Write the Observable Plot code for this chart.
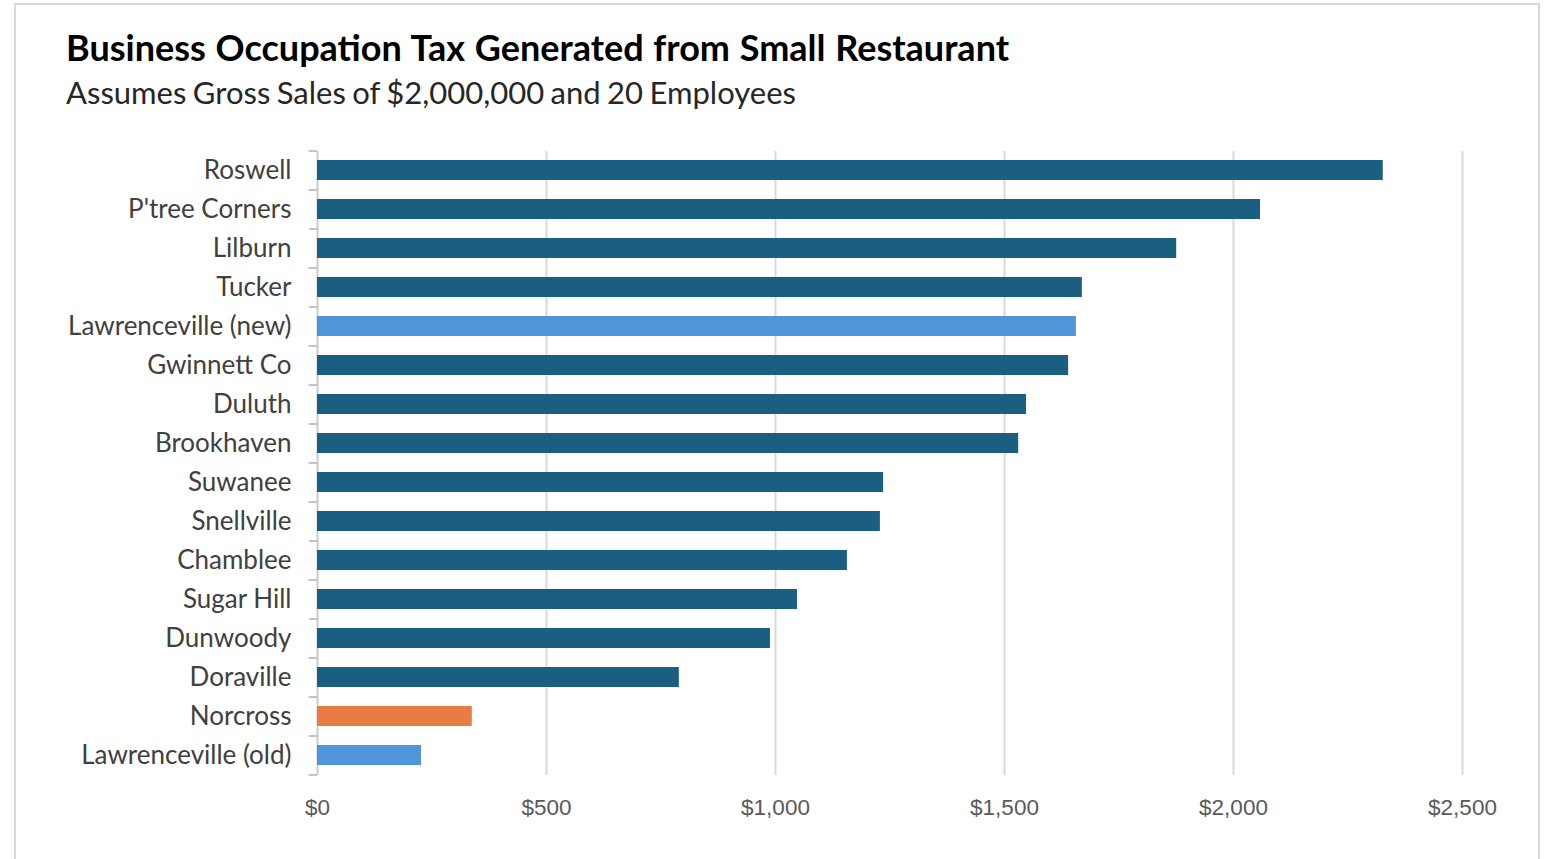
<!DOCTYPE html>
<html>
<head>
<meta charset="utf-8">
<script src="https://cdn.jsdelivr.net/npm/d3@7"></script>
<script src="https://cdn.jsdelivr.net/npm/@observablehq/plot@0.6"></script>
<style>
  html, body { margin: 0; padding: 0; background: #fff; }
  body { width: 1544px; height: 859px; position: relative; overflow: hidden; }
  #frame { position: absolute; left: 14px; top: 3px; width: 1526px; height: 900px; border: 2px solid #d9d9d9; box-sizing: border-box; }
  #title { position: absolute; left: 66px; top: 25px; font-family: Lato, sans-serif; font-weight: 700; font-size: 36px; color: #000; white-space: nowrap; z-index: 2; word-spacing: 1px; }
  #subtitle { position: absolute; left: 66px; top: 73px; font-family: Lato, sans-serif; font-weight: 400; font-size: 31px; color: #262626; white-space: nowrap; z-index: 2; word-spacing: -1.5px; }
  #chart { position: absolute; left: 0; top: 0; }
</style>
</head>
<body>
<div id="frame"></div>
<div id="title">Business Occupation Tax Generated from Small Restaurant</div>
<div id="subtitle">Assumes Gross Sales of $2,000,000 and 20 Employees</div>
<div id="chart"></div>
<script>
const cities = ["Roswell","P'tree Corners","Lilburn","Tucker","Lawrenceville (new)","Gwinnett Co","Duluth","Brookhaven","Suwanee","Snellville","Chamblee","Sugar Hill","Dunwoody","Doraville","Norcross","Lawrenceville (old)"];
const taxes = [2327, 2059, 1876, 1670, 1657, 1640, 1548, 1531, 1236, 1229, 1157, 1048, 989, 790, 338, 227];
const groups = ["other","other","other","other","lville","other","other","other","other","other","other","other","other","other","norcross","lville"];
const xTicks = [0, 500, 1000, 1500, 2000, 2500];

const data = cities.map((c, i) => ({city: c, tax: taxes[i], group: groups[i]}));

const W = 1544, H = 859;
const mTop = 151, mBottom = H - 775, mLeft = 317, mRight = W - 1462;
const step = (H - mTop - mBottom) / cities.length;

const chart = Plot.plot({
  width: W,
  height: H,
  marginTop: mTop,
  marginBottom: mBottom,
  marginLeft: mLeft,
  marginRight: mRight,
  style: {background: "transparent", overflow: "visible"},
  x: {domain: [0, 2500], ticks: xTicks},
  y: {domain: cities, padding: 0.48, paddingOuter: 0.24, align: 0.5},
  color: {domain: ["other","lville","norcross"], range: ["#1A5E81","#4E95D9","#E97C45"]},
  marks: [
    Plot.ruleX(xTicks.filter(d => d > 0), {stroke: "#d9d9d9", strokeWidth: 2, strokeOpacity: 1}),
    Plot.ruleX([0], {stroke: "#cccccc", strokeWidth: 2}),
    Plot.ruleY(cities, {y: d => d, x1: -18, x2: 0, dy: -step / 2, stroke: "#c4c4c4", strokeWidth: 2}),
    Plot.ruleY(cities.slice(-1), {y: d => d, x1: -18, x2: 0, dy: step / 2, stroke: "#c4c4c4", strokeWidth: 2}),
    Plot.barX(data, {y: "city", x: "tax", fill: "group"}),
    Plot.axisY({tickSize: 0, tickPadding: 26, fontSize: 26, fill: "#404040", fontFamily: "Lato, sans-serif", label: null}),
    Plot.axisX(xTicks, {tickSize: 0, tickPadding: 24, fontSize: 22.5, fill: "#595959", fontFamily: "'Liberation Sans', Arial, sans-serif", label: null, tickFormat: d => "$" + d3.format(",")(d)})
  ]
});
document.getElementById("chart").appendChild(chart);
</script>
</body>
</html>
